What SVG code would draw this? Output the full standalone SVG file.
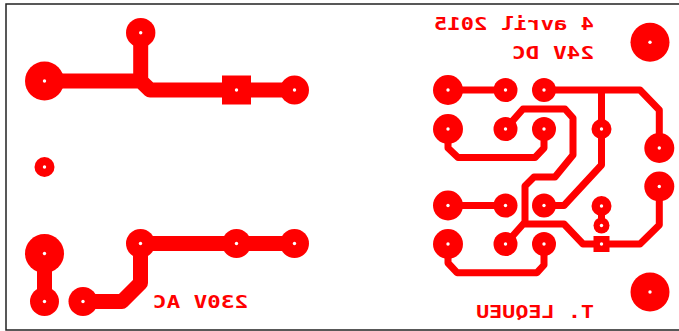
<svg xmlns="http://www.w3.org/2000/svg" width="679" height="331" viewBox="0 0 679 331">
<style>
.t{fill:none;stroke:#f00;stroke-linejoin:round;stroke-linecap:round}
.w{stroke-width:15}
.n{stroke-width:7}
.p{fill:#f00}
.h{fill:#fff}
.l{fill:#f00;font-family:"DejaVu Sans Mono",monospace;font-weight:bold;font-size:18px}
</style>
<rect width="679" height="331" fill="#fff"/>
<path d="M679 4H6V330H679" fill="none" stroke="#222" stroke-width="1.5"/>
<g id="connectors">
<path class="t w" d="M44.5 81H140.7M140.7 32.7V81L150 90H294.5"/>
<path class="t w" d="M44.5 253.5V301.5M83 301.5H122L140.5 283V243.5H294.5"/>
<path class="t n" d="M448 90H505.5M544 90H640L659.3 110V148M601.5 90V165L564 205.5H544"/>
<path class="t n" d="M505.5 129L523 109H565L573 118V155L555 177H534L525 186V222L505.5 244M525 224H564L583 244H640L659.3 225V186.5"/>
<path class="t n" d="M448 129V148L458 157.5H535L544 148V129M448 205.5H505.5M601.5 206V225.5"/>
<path class="t n" d="M448 244V263L457 272.7H537L544 265V244"/>
</g>
<g id="pad1"><circle class="p" cx="44.5" cy="81" r="19.5"/><circle class="h" cx="44.5" cy="81" r="1.7"/></g>
<g id="pad2"><circle class="p" cx="140.7" cy="32.7" r="14.7"/><circle class="h" cx="140.7" cy="32.7" r="1.7"/></g>
<g id="pad3"><rect class="p" x="222" y="75.5" width="29" height="29"/><circle class="h" cx="236.5" cy="90" r="1.7"/></g>
<g id="pad4"><circle class="p" cx="294.5" cy="90" r="14.5"/><circle class="h" cx="294.5" cy="90" r="1.7"/></g>
<g id="pad5"><circle class="p" cx="44.5" cy="167" r="10"/><circle class="h" cx="44.5" cy="167" r="1.7"/></g>
<g id="pad6"><circle class="p" cx="44.5" cy="253.5" r="19.5"/><circle class="h" cx="44.5" cy="253.5" r="1.7"/></g>
<g id="pad7"><circle class="p" cx="44.5" cy="301.5" r="14.5"/><circle class="h" cx="44.5" cy="301.5" r="1.7"/></g>
<g id="pad8"><circle class="p" cx="83" cy="301.5" r="14.5"/><circle class="h" cx="83" cy="301.5" r="1.7"/></g>
<g id="pad9"><circle class="p" cx="140.5" cy="243.5" r="14.5"/><circle class="h" cx="140.5" cy="243.5" r="1.7"/></g>
<g id="pad10"><circle class="p" cx="236.5" cy="243.5" r="14.5"/><circle class="h" cx="236.5" cy="243.5" r="1.7"/></g>
<g id="pad11"><circle class="p" cx="294.5" cy="243.5" r="14.5"/><circle class="h" cx="294.5" cy="243.5" r="1.7"/></g>
<g id="pad12"><circle class="p" cx="650" cy="42.3" r="19.5"/><circle class="h" cx="650" cy="42.3" r="1.7"/></g>
<g id="pad13"><circle class="p" cx="448" cy="90" r="15"/><circle class="h" cx="448" cy="90" r="1.7"/></g>
<g id="pad14"><circle class="p" cx="505.5" cy="90" r="12"/><circle class="h" cx="505.5" cy="90" r="1.7"/></g>
<g id="pad15"><circle class="p" cx="544" cy="90" r="12"/><circle class="h" cx="544" cy="90" r="1.7"/></g>
<g id="pad16"><circle class="p" cx="448" cy="129" r="15"/><circle class="h" cx="448" cy="129" r="1.7"/></g>
<g id="pad17"><circle class="p" cx="505.5" cy="129" r="12"/><circle class="h" cx="505.5" cy="129" r="1.7"/></g>
<g id="pad18"><circle class="p" cx="544" cy="129" r="12"/><circle class="h" cx="544" cy="129" r="1.7"/></g>
<g id="pad19"><circle class="p" cx="601.5" cy="129" r="10"/><circle class="h" cx="601.5" cy="129" r="1.7"/></g>
<g id="pad20"><circle class="p" cx="659.3" cy="148" r="15"/><circle class="h" cx="659.3" cy="148" r="1.7"/></g>
<g id="pad21"><circle class="p" cx="659.3" cy="186.5" r="15"/><circle class="h" cx="659.3" cy="186.5" r="1.7"/></g>
<g id="pad22"><circle class="p" cx="448" cy="205.5" r="15"/><circle class="h" cx="448" cy="205.5" r="1.7"/></g>
<g id="pad23"><circle class="p" cx="505.5" cy="205.5" r="12"/><circle class="h" cx="505.5" cy="205.5" r="1.7"/></g>
<g id="pad24"><circle class="p" cx="544" cy="205.5" r="12"/><circle class="h" cx="544" cy="205.5" r="1.7"/></g>
<g id="pad25"><circle class="p" cx="601.5" cy="206" r="10"/><circle class="h" cx="601.5" cy="206" r="1.7"/></g>
<g id="pad26"><circle class="p" cx="601.5" cy="225.5" r="8"/><circle class="h" cx="601.5" cy="225.5" r="1.7"/></g>
<g id="pad27"><circle class="p" cx="448" cy="244" r="15"/><circle class="h" cx="448" cy="244" r="1.7"/></g>
<g id="pad28"><circle class="p" cx="505.5" cy="244" r="12"/><circle class="h" cx="505.5" cy="244" r="1.7"/></g>
<g id="pad29"><circle class="p" cx="544" cy="244" r="12"/><circle class="h" cx="544" cy="244" r="1.7"/></g>
<g id="pad30"><rect class="p" x="593.5" y="236" width="16" height="16"/><circle class="h" cx="601.5" cy="244" r="1.7"/></g>
<g id="pad31"><circle class="p" cx="650" cy="292" r="19.5"/><circle class="h" cx="650" cy="292" r="1.7"/></g>
<g id="labels">
<text class="l" transform="translate(594,30) scale(-1,1)" textLength="160" lengthAdjust="spacingAndGlyphs">4 avril 2015</text>
<text class="l" transform="translate(594,59) scale(-1,1)" textLength="82" lengthAdjust="spacingAndGlyphs">24V DC</text>
<text class="l" transform="translate(594,318) scale(-1,1)" textLength="118" lengthAdjust="spacingAndGlyphs">T. LEQUEU</text>
<text class="l" transform="translate(248,308) scale(-1,1)" textLength="95" lengthAdjust="spacingAndGlyphs">230V AC</text>
</g>
</svg>
